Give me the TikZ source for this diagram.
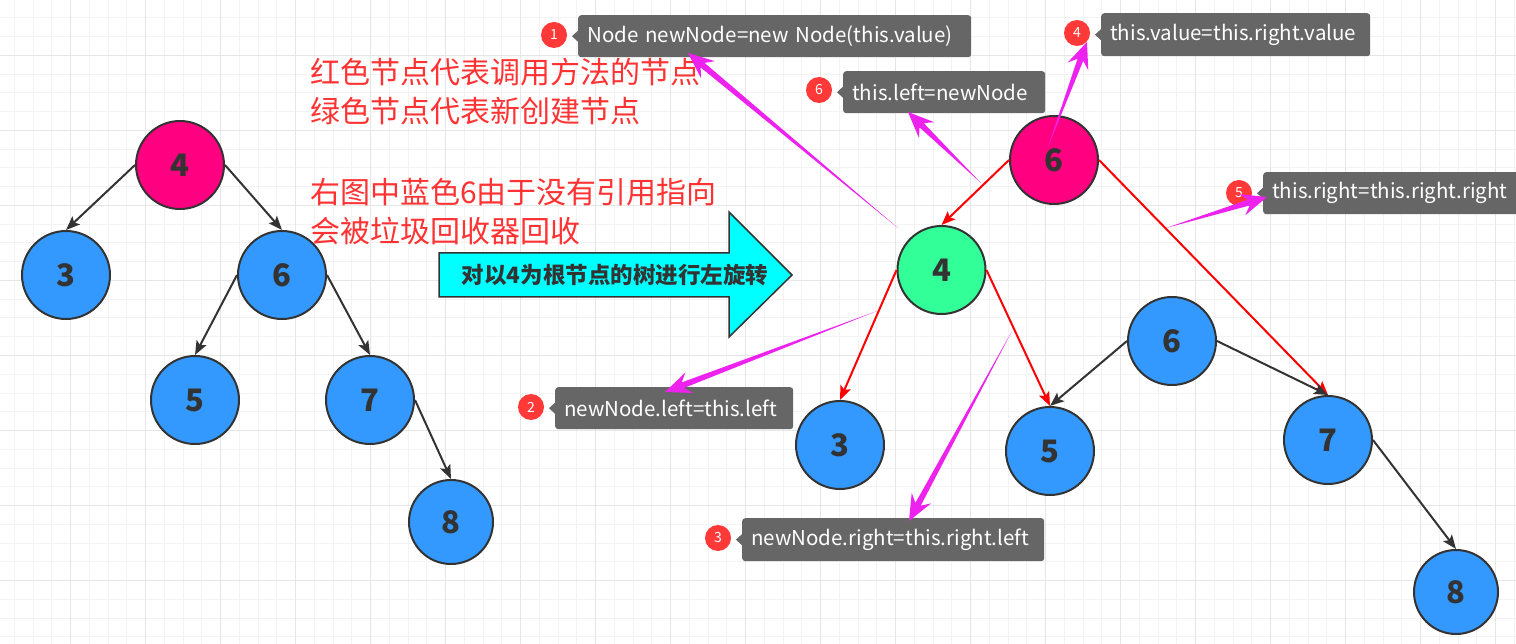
\documentclass[tikz,border=0pt]{standalone}
\usepackage{fontspec}
\setmainfont{Noto Sans CJK SC}
\usetikzlibrary{arrows.meta,calc}
\definecolor{pinkn}{HTML}{FF0080}
\definecolor{greenn}{HTML}{33FF99}
\definecolor{bluen}{HTML}{3399FF}
\definecolor{outl}{HTML}{333333}
\definecolor{redtxt}{HTML}{FF3333}
\definecolor{boxg}{HTML}{666666}
\definecolor{badgered}{HTML}{FF3838}
\definecolor{mag}{HTML}{EE22EE}
\definecolor{gridminor}{HTML}{F3F3F3}
\definecolor{gridmajor}{HTML}{E6E6E6}
\definecolor{cyanfill}{HTML}{00FFFF}
\newcommand\tapearrow[2]{%
  \coordinate (tapeN) at ($(#2)!19pt!(#1)$);
  \coordinate (tapeB) at ($(#2)!26pt!(#1)$);
  \fill[magfill] (#1) -- ($(tapeN)!3pt!90:(#2)$) -- ($(tapeB)!11pt!90:(#2)$) -- (#2)
     -- ($(tapeB)!11pt!-90:(#2)$) -- ($(tapeN)!3pt!-90:(#2)$) -- cycle;}
\begin{document}
\begin{tikzpicture}[x=1pt,y=-1pt,
  tnode/.style={circle,draw=outl,line width=2pt,minimum size=88pt,inner sep=0pt,
    font=\fontsize{31}{31}\selectfont\bfseries,text=outl},
  bnode/.style={tnode,fill=bluen},
  tedge/.style={draw=outl,line width=2pt,-{Stealth[length=14pt,width=11pt,inset=3pt]}},
  redge/.style={draw=red,line width=2pt,-{Stealth[length=14pt,width=11pt,inset=3pt]}},
  lbox/.style={fill=boxg,rounded corners=3pt,anchor=north west,inner xsep=9pt,inner ysep=0pt,
    align=left,text=white,font=\fontsize{20.5}{20.5}\selectfont},
  badge/.style={circle,fill=badgered,minimum size=26pt,inner sep=0pt,text=white,
    font=\fontsize{14}{14}\selectfont},
  magfill/.style={fill=mag},
  redtext/.style={anchor=west,align=left,inner sep=0pt,text=redtxt,
    font=\fontsize{30}{39}\selectfont},
  gmin/.style={draw=gridminor,line width=1pt},
  gmaj/.style={draw=gridmajor,line width=1pt}
]
\useasboundingbox (0,0) rectangle (1516,644);
\fill[white] (0,0) rectangle (1516,644);
% grid
\foreach \i in {0,...,80} \draw[gmin] ({14.45+18.75*\i},0) -- ++(0,644);
\foreach \j in {0,...,34} \draw[gmin] (0,{18+18.75*\j}) -- ++(1516,0);
\foreach \k in {1,...,20} \draw[gmaj] ({-4.3+75*\k},0) -- ++(0,644);
\foreach \k in {0,...,7} \draw[gmaj] (0,{55.5+75*\k}) -- ++(1516,0);

% red explanatory text
\node[redtext] (t1) at (310,91.5) {红色节点代表调用方法的节点\\绿色节点代表新创建节点};
\node[redtext] (t2) at (310,212) {右图中蓝色6由于没有引用指向\\会被垃圾回收器回收};

% cyan arrow
\draw[draw=outl,fill=cyanfill,line width=1.5pt,line join=miter]
  (439,253) -- (729,253) -- (729,212) -- (792,275) -- (729,337) -- (729,297) -- (439,297) -- cycle;
\node[text=outl,font=\fontsize{22.5}{22.5}\selectfont\bfseries] (rot) at (615,275) {对以4为根节点的树进行左旋转};

% left tree
\node[tnode,fill=pinkn] (L4) at (180,165) {4};
\node[bnode] (L3) at (66,275) {3};
\node[bnode] (L6) at (282,275) {6};
\node[bnode] (L5) at (195,400) {5};
\node[bnode] (L7) at (370,400) {7};
\node[bnode,minimum size=84pt] (L8) at (451,522) {8};
\draw[tedge] (L4.west) -- (L3.north);
\draw[tedge] (L4.east) -- (L6.north);
\draw[tedge] (L6.west) -- (L5.north);
\draw[tedge] (L6.east) -- (L7.north);
\draw[tedge] (L7.east) -- (L8.north);

% right tree
\node[tnode,fill=pinkn] (R6) at (1054,160) {6};
\node[tnode,fill=greenn] (R4) at (941.5,270) {4};
\node[bnode] (R3) at (840,445) {3};
\node[bnode] (R5) at (1050,451) {5};
\node[bnode] (B6) at (1172,341) {6};
\node[bnode] (R7) at (1328,440) {7};
\node[bnode,minimum size=84pt] (R8) at (1456,592) {8};
\draw[redge] (R6.west) -- (R4.north);
\draw[redge] (R6.east) -- (R7.north);
\draw[redge] (R4.west) -- (R3.north);
\draw[redge] (R4.east) -- (R5.north);
\draw[tedge] (B6.west) -- (R5.north);
\draw[tedge] (B6.east) -- (R7.north);
\draw[tedge] (R7.east) -- (R8.north);

% label boxes
\node[lbox,text width=375pt,minimum height=42pt] (b1) at (578,15) {Node newNode=new Node(this.value)};
\node[lbox,text width=184pt,minimum height=42pt] (b6) at (843,71) {this.left=newNode};
\node[lbox,text width=251pt,minimum height=43pt] (b4) at (1101,13) {this.value=this.right.value};
\node[lbox,text width=240pt,minimum height=42pt] (b5) at (1263,172) {this.right=this.right.right};
\node[lbox,text width=220pt,minimum height=42pt] (b2) at (555,387) {newNode.left=this.left};
\node[lbox,text width=284pt,minimum height=43pt] (b3) at (742,518) {newNode.right=this.right.left};
\foreach \b in {b1,b6,b4,b5,b2,b3}
  \fill[boxg] ($(\b.west)+(0.5,-6)$) -- ($(\b.west)+(-6,0)$) -- ($(\b.west)+(0.5,6)$) -- cycle;

% badges
\node[badge] (n1) at (554,35) {1};
\node[badge] (n6) at (819,90) {6};
\node[badge] (n4) at (1077,33) {4};
\node[badge] (n5) at (1239,193) {5};
\node[badge] (n2) at (531,407) {2};
\node[badge] (n3) at (718,538) {3};

% magenta tapered arrows
\coordinate (m1t) at (898,228); \coordinate (m1h) at (688,53);
\coordinate (m2t) at (877,311); \coordinate (m2h) at (665,392);
\coordinate (m3t) at (1012,331); \coordinate (m3h) at (909,521);
\coordinate (m4t) at (1048,147); \coordinate (m4h) at (1087,42);
\coordinate (m5t) at (1166,228); \coordinate (m5h) at (1267,197);
\coordinate (m6t) at (981,183); \coordinate (m6h) at (908,112);
\tapearrow{m1t}{m1h}
\tapearrow{m2t}{m2h}
\tapearrow{m3t}{m3h}
\tapearrow{m4t}{m4h}
\tapearrow{m5t}{m5h}
\tapearrow{m6t}{m6h}
\end{tikzpicture}
\end{document}
